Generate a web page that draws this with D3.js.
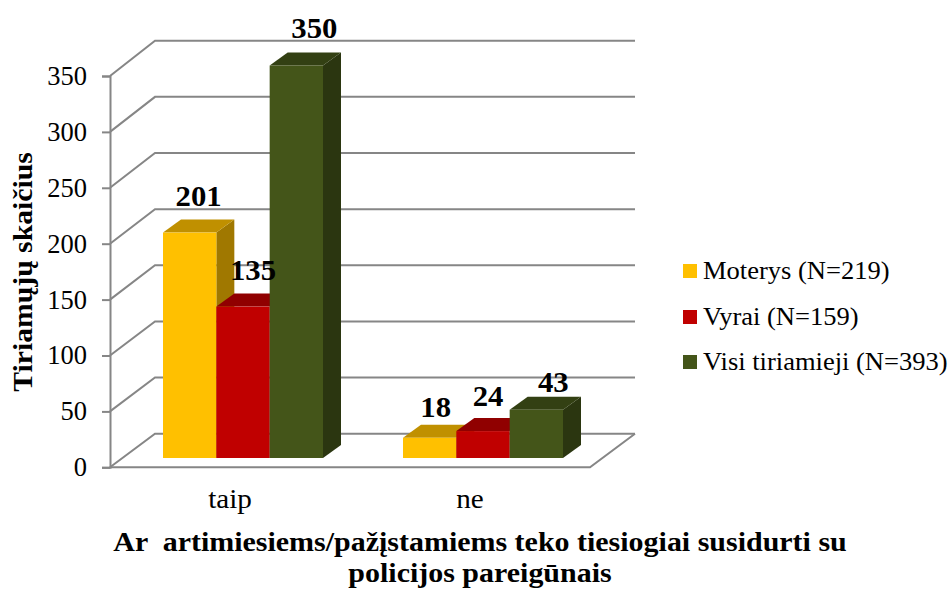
<!DOCTYPE html>
<html><head><meta charset="utf-8">
<script src="https://cdnjs.cloudflare.com/ajax/libs/d3/7.8.5/d3.min.js"></script>
<style>html,body{margin:0;padding:0;background:#fff}svg{display:block}text{font-family:"Liberation Serif",serif;fill:#000}</style>
</head><body><svg id="c" width="951" height="589"></svg>
<script>
const categories = ["taip", "ne"];
const seriesNames = ["Moterys (N=219)", "Vyrai (N=159)", "Visi tiriamieji (N=393)"];
const moterys = [201, 18];
const vyrai = [135, 24];
const visi = [350, 43];
const tickValues = [0, 50, 100, 150, 200, 250, 300, 350];
const yAxisTitle = "Tiriamųjų skaičius";
const xAxisTitle = ["Ar  artimiesiems/pažįstamiems teko tiesiogiai susidurti su", "policijos pareigūnais"];

const seriesValues = [moterys, vyrai, visi];
const fronts = ["#ffc000", "#c00000", "#445519"];
const tops = ["#c09000", "#900000", "#334013"];
const sides = ["#a07800", "#800000", "#2b3610"];
const gridC = "#868686";

const svg = d3.select("#c");
const y = d3.scaleLinear().domain([0, 350]).range([467.3, 76]);
const yBack = d3.scaleLinear().domain([0, 350]).range([433.7, 40.7]);
const yBar = d3.scaleLinear().domain([0, 350]).range([458, 65.5]);
const x0 = d3.scaleBand().domain(categories).range([110, 590]);
const xs = d3.scaleBand().domain(d3.range(3)).range([0, 160]);
const dx = 45, bdx = 18, bdy = -13, barOff = 53;
// manual label placement, as nudged in the reference: [dx, dy] for each category then series
const labelNudge = [[[9, -14], [10, -14], [18, -15]], [[6, -8], [5, -12], [17, -5]]];

function stretched(g, px, py, sx, size, str, anchor, weight, rot) {
  return g.append("text")
    .attr("transform", `translate(${px},${py})` + (rot ? ` rotate(${rot})` : "") + ` scale(${sx},1)`)
    .attr("text-anchor", anchor).attr("font-size", size).attr("font-weight", weight)
    .attr("xml:space", "preserve").text(str);
}

// gridlines on the wall
const grid = svg.append("g").attr("fill", "none").attr("stroke", gridC).attr("stroke-width", 2);
tickValues.forEach(t => {
  const p = d3.path();
  p.moveTo(110, y(t)); p.lineTo(110 + dx, yBack(t)); p.lineTo(635, yBack(t));
  grid.append("path").attr("d", p);
});
// floor
const fl = d3.path();
fl.moveTo(110, y(0)); fl.lineTo(590, y(0)); fl.lineTo(635, yBack(0));
grid.append("path").attr("d", fl);

// y axis
const ax = svg.append("g").attr("transform", "translate(110,0)")
  .call(d3.axisLeft(y).tickValues(tickValues).tickSize(8).tickPadding(15).tickFormat(d3.format("d")));
ax.selectAll("path,line").attr("stroke", gridC).attr("stroke-width", 2);
ax.selectAll("text").attr("font-size", 26.5).attr("font-family", "Liberation Serif").attr("fill", "#000");

// bars
categories.forEach((c, ci) => {
  seriesValues.forEach((vals, si) => {
    const v = vals[ci];
    const l = x0(c) + barOff + xs(si), r = l + xs.bandwidth();
    const t = yBar(v), b = yBar(0);
    const pts = a => a.map(q => q.join(",")).join(" ");
    svg.append("polygon").attr("fill", sides[si]).attr("points", pts([[r, t], [r + bdx, t + bdy], [r + bdx, b + bdy], [r, b]]));
    svg.append("polygon").attr("fill", tops[si]).attr("points", pts([[l, t], [l + bdx, t + bdy], [r + bdx, t + bdy], [r, t]]));
    svg.append("rect").attr("x", l).attr("y", t).attr("width", r - l).attr("height", b - t).attr("fill", fronts[si]);
  });
});
// data labels
categories.forEach((c, ci) => {
  seriesValues.forEach((vals, si) => {
    const v = vals[ci], n = labelNudge[ci][si];
    stretched(svg, x0(c) + barOff + xs(si) + xs.bandwidth() / 2 + n[0], yBar(v) + bdy + n[1], 1.06, 29, v, "middle", "bold");
  });
});
// category labels
categories.forEach(c => {
  stretched(svg, x0(c) + x0.bandwidth() / 2, 508, 1.08, 27, c, "middle", "normal");
});
// titles
stretched(svg, 32, 272, 1.1, 27, yAxisTitle, "middle", "bold", -90);
xAxisTitle.forEach((s, i) => {
  stretched(svg, 480, 551 + i * 31, 1.11, 27, s, "middle", "bold");
});
// legend
const legY = [271, 317, 362];
seriesNames.forEach((n, i) => {
  svg.append("rect").attr("x", 683).attr("y", legY[i] - 7).attr("width", 14).attr("height", 14).attr("fill", fronts[i]);
  stretched(svg, 703, legY[i] + 8, 1.04, 25.5, n, "start", "normal");
});
</script></body></html>
